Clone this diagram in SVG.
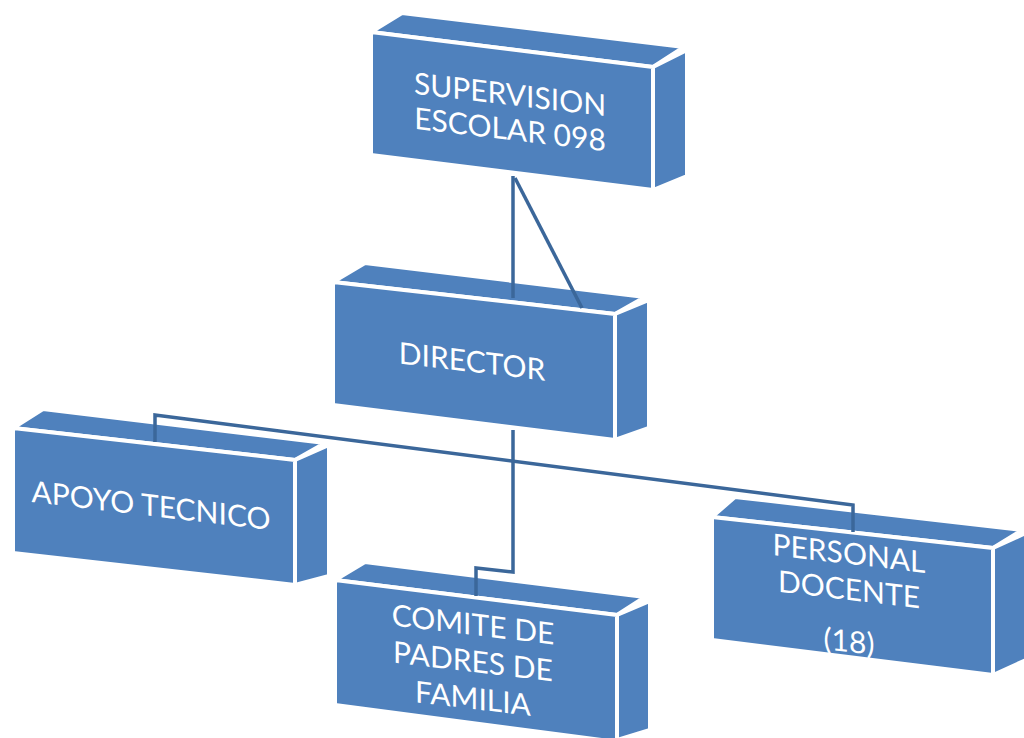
<svg xmlns="http://www.w3.org/2000/svg" width="1024" height="738" viewBox="0 0 1024 738">
<style>
.face{fill:#4F81BD;stroke:#FFFFFF;stroke-width:4;stroke-linejoin:round}
.lbl{font-family:Lato,"Open Sans","Liberation Sans",sans-serif;font-size:30px;fill:#FFFFFF;text-anchor:middle}
.conn{fill:none;stroke:#3B679A;stroke-width:3.5;stroke-linejoin:miter}
</style>
<rect width="1024" height="738" fill="#FFFFFF"/>
<g id="supervision">
<polygon class="face" points="371,32 402,13 684,47 653,67"/>
<polygon class="face" points="653,67 687,50 687,176 653,190"/>
<polygon class="face" points="371,32 653,67 653,190 371,155"/>
<g transform="translate(510,105) skewY(6.7)"><text class="lbl" x="0" y="0">SUPERVISION</text><text class="lbl" x="0" y="35">ESCOLAR 098</text></g>
</g>
<g id="director">
<polygon class="face" points="333,282 365,263 645,297 615,314"/>
<polygon class="face" points="615,314 649,300 649,428 615,440"/>
<polygon class="face" points="333,282 615,314 615,440 333,405"/>
<g transform="translate(472,372) skewY(6.7)"><text class="lbl" x="0" y="0">DIRECTOR</text></g>
</g>
<g id="apoyo">
<polygon class="face" points="13,428 43,409 325,443 295,460"/>
<polygon class="face" points="295,460 329,445 329,576 295,585"/>
<polygon class="face" points="13,428 295,460 295,585 13,553"/>
<g transform="translate(151,516) skewY(6.7)"><text class="lbl" x="0" y="0">APOYO TECNICO</text></g>
</g>
<g id="comite">
<polygon class="face" points="335,580 365,562 645,597 617,615"/>
<polygon class="face" points="617,615 650,601 650,730 617,740"/>
<polygon class="face" points="335,580 617,615 617,742 335,705"/>
<g transform="translate(473,635) skewY(6.7)"><text class="lbl" x="0" y="0">COMITE DE</text><text class="lbl" x="0" y="37">PADRES DE</text><text class="lbl" x="0" y="74">FAMILIA</text></g>
</g>
<g id="personal">
<polygon class="face" points="712,517 735,497 1022,530 993,548"/>
<polygon class="face" points="993,548 1026,533 1026,660 993,675"/>
<polygon class="face" points="712,517 993,548 993,675 712,640"/>
<g transform="translate(849,564) skewY(6.7)"><text class="lbl" x="0" y="0">PERSONAL</text><text class="lbl" x="0" y="36">DOCENTE</text><text class="lbl" x="0" y="88">(18)</text></g>
</g>
<g id="connectors">
<path class="conn" d="M513,176 V298"/>
<path class="conn" d="M515,178 L582,308"/>
<path class="conn" d="M513,430 V572 L476,568 V596"/>
<path class="conn" d="M155,442 V415 L853,505 V532"/>
</g>
</svg>
